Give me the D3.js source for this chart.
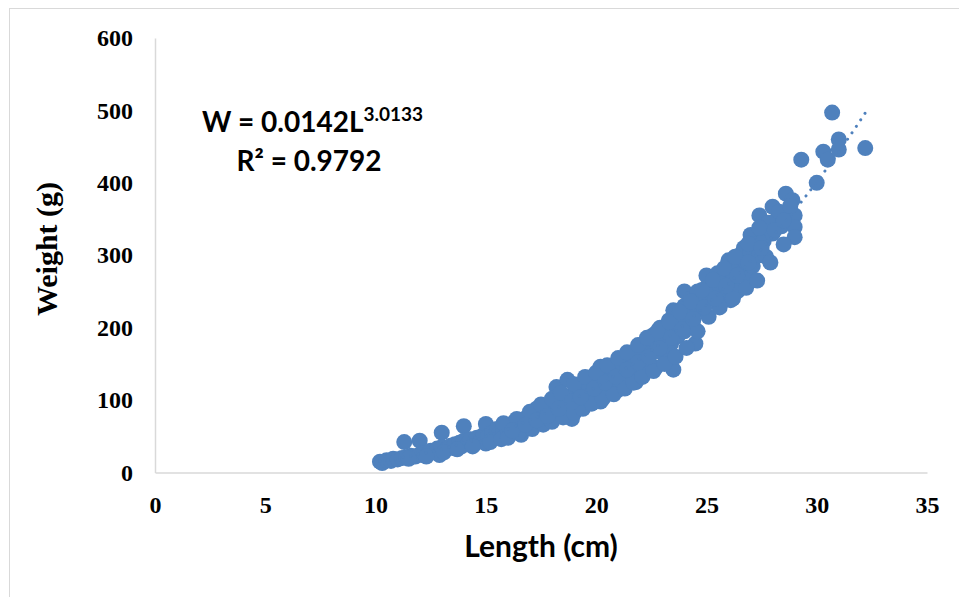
<!DOCTYPE html>
<html><head><meta charset="utf-8">
<script src="https://cdn.jsdelivr.net/npm/d3@7/dist/d3.min.js"></script>
<style>
html,body{margin:0;padding:0;background:#fff;}
svg{display:block;}
</style></head>
<body><svg id="chart" width="959" height="597"></svg>
<script>
const xTicks = [0,5,10,15,20,25,30,35];
const yTicks = [0,100,200,300,400,500,600];
const coefA = 0.0142, coefB = 3.0133;
const equationText = "W = 0.0142L", equationExp = "3.0133", r2Text = "R² = 0.9792";
const xTitle = "Length (cm)", yTitle = "Weight (g)";
const lengths = [10.2,10.3,10.5,10.7,10.8,11.0,11.2,11.3,11.4,11.6,11.8,12.0,12.0,12.2,12.4,12.5,12.7,12.8,12.9,13.0,13.0,13.2,13.4,13.5,13.6,13.8,13.9,14.0,14.0,14.2,14.3,14.5,14.6,14.8,14.9,15.0,15.0,15.1,15.3,15.4,15.5,15.6,15.8,15.9,16.0,16.1,16.2,16.3,16.4,16.5,16.6,16.7,16.8,16.9,17.0,17.0,17.2,17.3,17.4,17.5,17.6,17.7,17.8,17.9,18.0,18.1,18.2,18.2,18.3,18.4,18.5,18.6,18.7,18.7,18.8,18.9,19.0,19.1,19.2,19.3,19.4,19.5,19.6,19.7,19.8,19.9,20.0,20.1,20.2,20.2,20.3,20.4,20.5,20.6,20.7,20.8,21.0,21.0,21.1,21.2,21.3,21.5,21.5,21.6,21.8,21.9,22.0,22.0,22.2,22.3,22.4,22.5,22.6,22.7,22.8,22.9,23.0,23.0,23.2,23.3,23.4,23.5,23.5,23.6,23.7,23.8,23.9,24.0,24.0,24.0,24.2,24.3,24.4,24.5,24.5,24.6,24.8,24.9,25.0,25.0,25.2,25.3,25.4,25.5,25.6,25.8,25.9,26.0,26.0,26.1,26.2,26.3,26.4,26.5,26.6,26.7,26.8,26.9,27.0,27.0,27.1,27.2,27.4,27.4,27.5,27.6,27.7,27.8,28.0,28.0,28.2,28.4,28.6,28.7,28.9,29.0,29.0,29.0,29.3,30.0,30.3,30.5,30.7,31.0,31.0,32.2,
  11.5,12.3,13.1,13.7,14.4,15.2,15.7,16.0,16.5,17.1,17.6,18.0,18.5,19.0,19.4,19.8,20.3,20.8,21.3,21.7,22.1,22.6,23.1,23.6,24.1,24.6,25.1,25.6,26.2,26.8,27.3,27.9,28.5,
  15.8,16.4,17.0,17.5,18.0,18.4,19.0,19.5,20.0,20.5,21.0,21.4,21.9,22.3,22.8,23.3,23.8,24.3,24.8,25.3,25.8,26.3,26.9,27.4,28.3,28.8,
  16.2,16.8,17.3,17.8,18.3,18.9,19.3,19.9,20.4,20.9,21.4,21.9,22.4,22.9,23.4,23.9,24.4,24.9,25.4,25.9,26.4,26.9,27.5,28.1,28.5];
const weights = [15,13,17,16,19,18,20,42,21,23,22,25,44,27,26,30,29,33,24,55,35,32,37,34,39,41,36,64,44,40,46,43,48,45,52,67,40,50,55,48,60,53,58,62,55,66,60,70,63,72,52,68,75,62,80,70,74,88,78,69,84,92,80,75,90,85,118,95,82,100,92,88,128,105,96,74,110,100,92,115,104,125,98,118,108,130,112,120,146,98,128,115,136,122,140,130,114,145,135,150,128,162,140,155,125,148,168,158,172,150,180,165,190,145,175,200,185,165,195,210,178,224,142,200,188,215,205,250,230,195,220,240,210,178,232,250,225,245,272,255,240,262,250,275,258,268,245,293,280,238,265,285,250,300,275,310,290,268,328,305,285,315,355,300,335,320,298,345,367,330,350,340,385,355,376,355,339,325,432,400,443,432,497,460,446,448,
  19,22,28,32,36,42,46,48,55,60,66,70,76,82,88,95,102,108,116,124,132,140,150,160,172,195,215,228,240,255,265,290,315,
  68,74,84,94,102,110,122,132,138,148,158,166,176,186,196,208,222,236,252,266,282,298,316,338,360,368,
  58,66,72,78,88,98,104,116,124,132,142,152,160,172,186,198,212,228,240,258,272,290,310,335,348];

const svg = d3.select("#chart");
svg.append("rect").attr("x",9.5).attr("y",8.5).attr("width",960).attr("height",600)
  .attr("fill","#fff").attr("stroke","#d9d9d9").attr("stroke-width",1);

const x = d3.scaleLinear().domain([0,35]).range([155,927]);
const y = d3.scaleLinear().domain([0,600]).range([472.5,38]);

const serif = "'Liberation Serif','Times New Roman',serif";
const sans = "Lato,'Open Sans',sans-serif";

const gx = svg.append("g").attr("transform","translate(0,"+y(0)+")")
  .call(d3.axisBottom(x).tickValues(xTicks).tickSize(0).tickPadding(23).tickFormat(d3.format("d")));
const gy = svg.append("g").attr("transform","translate("+x(0)+",0)")
  .call(d3.axisLeft(y).tickValues(yTicks).tickSize(0).tickPadding(22).tickFormat(d3.format("d")));
[gx,gy].forEach(g=>{
  g.select(".domain").attr("stroke","#d9d9d9").attr("stroke-width",1.5);
  g.selectAll("text").attr("font-family",serif).attr("font-weight","bold").attr("font-size",24).attr("fill","#000");
});

const data = lengths.map((l,i)=>({l, w: weights[i]}));
svg.append("g").selectAll("circle").data(data).join("circle")
  .attr("cx",d=>x(d.l)).attr("cy",d=>y(d.w)).attr("r",8).attr("fill","#4f81bd");

const lmin = d3.min(lengths), lmax = d3.max(lengths);
const trend = d3.range(0,201).map(i=>{const l = lmin+(lmax-lmin)*i/200; return [l, coefA*Math.pow(l,coefB)];});
svg.append("path").datum(trend)
  .attr("d", d3.line().x(d=>x(d[0])).y(d=>y(d[1])))
  .attr("fill","none").attr("stroke","#4f81bd").attr("stroke-width",3)
  .attr("stroke-linecap","round").attr("stroke-dasharray","0.01 7.8");

const eq = svg.append("text").attr("x",202).attr("y",132)
  .attr("font-family",sans).attr("font-weight","bold").attr("font-size",28).attr("fill","#000");
eq.append("tspan").text(equationText);
eq.append("tspan").attr("dy",-11).attr("font-size",19).text(equationExp);
svg.append("text").attr("x",309).attr("y",171).attr("text-anchor","middle")
  .attr("font-family",sans).attr("font-weight","bold").attr("font-size",28).attr("fill","#000").text(r2Text);

svg.append("text").attr("x",541).attr("y",557).attr("text-anchor","middle")
  .attr("font-family",sans).attr("font-weight","bold").attr("font-size",30).attr("fill","#000").text(xTitle);
svg.append("text").attr("transform","translate(57,249) rotate(-90)").attr("text-anchor","middle")
  .attr("font-family",serif).attr("font-weight","bold").attr("font-size",30).attr("fill","#000").text(yTitle);
</script></body></html>
